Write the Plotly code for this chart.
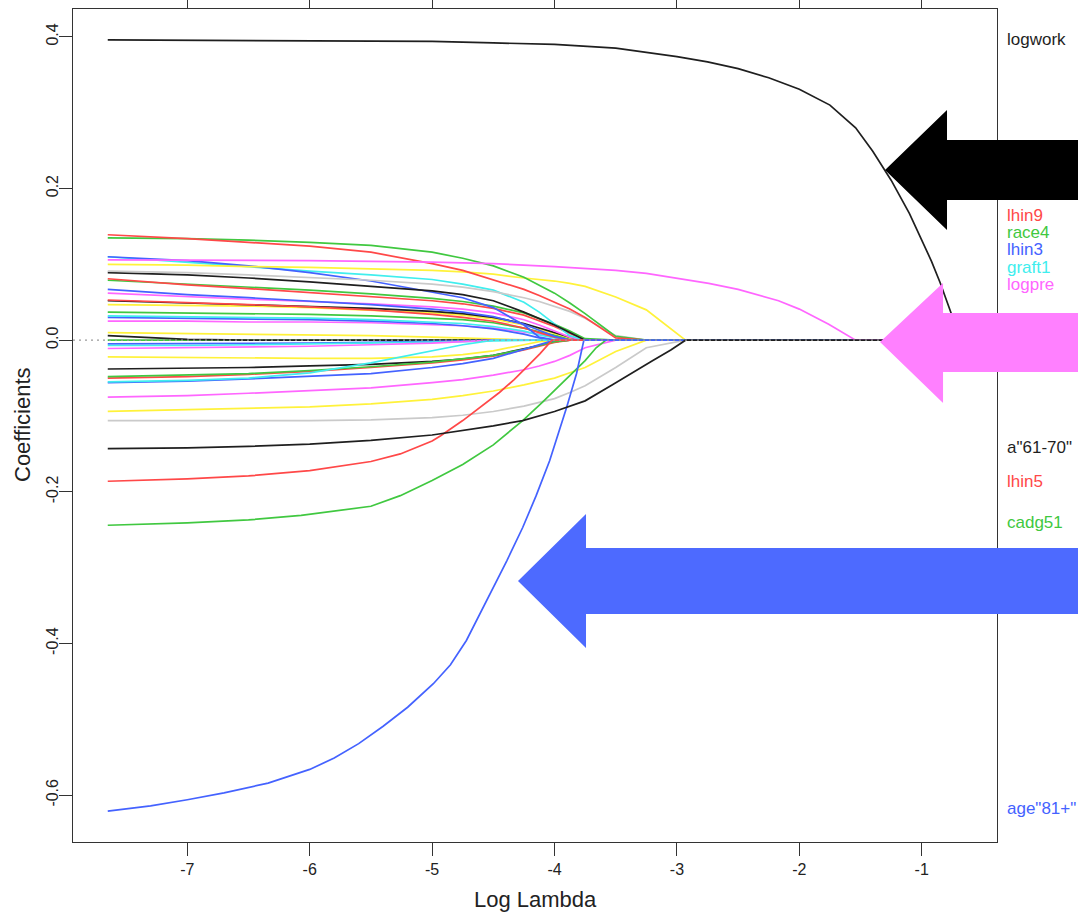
import plotly.graph_objects as go

# ---- data ----
log_lambda = [-7.65, -7.0, -6.5, -6.0, -5.5, -5.0, -4.75, -4.5, -4.25, -4.125, -4.0,
              -3.875, -3.75, -3.5, -3.25, -2.93, -0.68]

# prominent paths, each on its own (finer) log-lambda grid
logwork_x = [-7.65, -6.0, -5.0, -4.5, -4.0, -3.5, -3.0, -2.75, -2.5, -2.25, -2.0, -1.75, -1.54,
             -1.4, -1.25, -1.1, -1.0, -0.92, -0.85, -0.76, -0.68]
logwork = [0.396, 0.395, 0.394, 0.392, 0.390, 0.385, 0.374, 0.367, 0.358, 0.346, 0.331, 0.310,
           0.280, 0.249, 0.211, 0.167, 0.133, 0.104, 0.076, 0.037, 0.0]
logpre_x = [-7.65, -6.0, -5.0, -4.5, -4.0, -3.5, -3.25, -3.0, -2.74, -2.5, -2.17, -2.0, -1.76,
            -1.54, -0.68]
logpre = [0.106, 0.105, 0.103, 0.101, 0.097, 0.092, 0.088, 0.082, 0.075, 0.067, 0.052, 0.041,
          0.021, 0.0, 0.0]
age81_x = [-7.65, -7.3, -7.0, -6.7, -6.34, -6.0, -5.8, -5.6, -5.4, -5.2, -4.99, -4.85, -4.72,
           -4.55, -4.39, -4.26, -4.15, -4.04, -3.90, -3.82, -3.76, -0.68]
age81 = [-0.621, -0.614, -0.606, -0.597, -0.584, -0.566, -0.551, -0.532, -0.509, -0.484, -0.453,
         -0.428, -0.396, -0.343, -0.291, -0.247, -0.205, -0.159, -0.088, -0.044, 0.0, 0.0]
lhin5_x = [-7.65, -7.0, -6.5, -6.0, -5.5, -5.26, -5.0, -4.93, -4.75, -4.6, -4.45, -4.33, -4.23,
           -4.12, -4.02, -0.68]
lhin5 = [-0.186, -0.183, -0.179, -0.172, -0.160, -0.150, -0.133, -0.126, -0.106, -0.088, -0.069,
         -0.052, -0.036, -0.018, 0.0, 0.0]
cadg51_x = [-7.65, -7.0, -6.5, -6.07, -5.5, -5.26, -5.0, -4.93, -4.75, -4.5, -4.26, -4.1, -3.95,
            -3.85, -3.75, -3.66, -3.58, -0.68]
cadg51 = [-0.244, -0.241, -0.237, -0.231, -0.219, -0.205, -0.185, -0.179, -0.164, -0.138, -0.106,
          -0.082, -0.058, -0.043, -0.027, -0.010, 0.0, 0.0]
a61_70_x = [-7.65, -7.0, -6.5, -6.0, -5.5, -5.0, -4.5, -4.26, -4.0, -3.75, -3.53, -3.35, -3.2,
            -3.05, -2.93, -0.68]
a61_70 = [-0.143, -0.142, -0.140, -0.137, -0.132, -0.125, -0.113, -0.106, -0.094, -0.080, -0.059,
          -0.041, -0.027, -0.013, 0.0, 0.0]

# remaining paths on the shared grid (17 points each)
lhin9 = [0.139, 0.134, 0.129, 0.124, 0.116, 0.101, 0.092, 0.080, 0.067, 0.059, 0.050, 0.041, 0.030, 0.003, 0, 0, 0]
race4 = [0.135, 0.134, 0.132, 0.129, 0.125, 0.116, 0.108, 0.098, 0.083, 0.073, 0.062, 0.049, 0.035, 0.005, 0, 0, 0]
lhin3 = [0.110, 0.105, 0.098, 0.089, 0.078, 0.064, 0.056, 0.043, 0.020, 0.004, 0, 0, 0, 0, 0, 0, 0]
graft1 = [0.110, 0.103, 0.097, 0.091, 0.086, 0.080, 0.074, 0.066, 0.050, 0.037, 0.022, 0.006, 0, 0, 0, 0, 0]
v07 = [0.100, 0.099, 0.097, 0.096, 0.094, 0.092, 0.090, 0.087, 0.082, 0.080, 0.078, 0.075, 0.071, 0.057, 0.040, 0, 0]
v08 = [0.091, 0.089, 0.086, 0.083, 0.079, 0.074, 0.070, 0.064, 0.056, 0.051, 0.045, 0.038, 0.029, 0.006, 0, 0, 0]
v09 = [0.089, 0.086, 0.082, 0.077, 0.071, 0.065, 0.060, 0.052, 0.037, 0.029, 0.020, 0.010, 0, 0, 0, 0, 0]
v10 = [0.081, 0.073, 0.068, 0.063, 0.058, 0.052, 0.048, 0.042, 0.033, 0.026, 0.018, 0.009, 0, 0, 0, 0, 0]
v11 = [0.079, 0.074, 0.070, 0.066, 0.061, 0.055, 0.051, 0.045, 0.036, 0.029, 0.021, 0.012, 0.002, 0, 0, 0, 0]
v12 = [0.067, 0.060, 0.056, 0.052, 0.047, 0.041, 0.037, 0.031, 0.021, 0.013, 0.005, 0, 0, 0, 0, 0, 0]
v13 = [0.062, 0.057, 0.054, 0.051, 0.048, 0.044, 0.041, 0.036, 0.027, 0.020, 0.012, 0.004, 0, 0, 0, 0, 0]
v14 = [0.047, 0.046, 0.045, 0.043, 0.040, 0.036, 0.033, 0.028, 0.020, 0.015, 0.009, 0.003, 0, 0, 0, 0, 0]
v15 = [0.053, 0.050, 0.047, 0.044, 0.040, 0.034, 0.030, 0.025, 0.016, 0.010, 0.004, 0, 0, 0, 0, 0, 0]
v16 = [0.052, 0.049, 0.047, 0.045, 0.042, 0.038, 0.035, 0.030, 0.022, 0.016, 0.010, 0.004, 0, 0, 0, 0, 0]
v17 = [0.037, 0.036, 0.035, 0.034, 0.032, 0.029, 0.027, 0.023, 0.016, 0.011, 0.006, 0.002, 0, 0, 0, 0, 0]
v18 = [0.032, 0.031, 0.030, 0.029, 0.027, 0.024, 0.022, 0.018, 0.012, 0.007, 0.003, 0, 0, 0, 0, 0, 0]
v19 = [0.030, 0.029, 0.028, 0.027, 0.025, 0.022, 0.019, 0.015, 0.008, 0.003, 0, 0, 0, 0, 0, 0, 0]
v20 = [0.025, 0.025, 0.024, 0.024, 0.023, 0.021, 0.019, 0.016, 0.011, 0.008, 0.004, 0.001, 0, 0, 0, 0, 0]
v21 = [0.010, 0.009, 0.008, 0.007, 0.006, 0.004, 0.003, 0.001, 0, 0, 0, 0, 0, 0, 0, 0, 0]
v22 = [0.006, 0.001, 0, 0, 0, 0, 0, 0, 0, 0, 0, 0, 0, 0, 0, 0, 0]
v23 = [0, 0, 0, 0, 0, 0, 0, 0, 0, 0, 0, 0, 0, 0, 0, 0, 0]
v24 = [-0.005, -0.005, -0.004, -0.004, -0.003, -0.002, -0.001, 0, 0, 0, 0, 0, 0, 0, 0, 0, 0]
v25 = [-0.007, -0.007, -0.006, -0.005, -0.004, -0.003, -0.002, -0.001, 0, 0, 0, 0, 0, 0, 0, 0, 0]
v26 = [-0.011, -0.010, -0.009, -0.008, -0.006, -0.004, -0.002, 0, 0, 0, 0, 0, 0, 0, 0, 0, 0]
v27 = [-0.022, -0.023, -0.024, -0.024, -0.024, -0.022, -0.019, -0.014, -0.006, -0.002, 0, 0, 0, 0, 0, 0, 0]
v28 = [-0.038, -0.037, -0.036, -0.034, -0.032, -0.028, -0.025, -0.020, -0.012, -0.007, -0.002, 0, 0, 0, 0, 0, 0]
v29 = [-0.050, -0.048, -0.045, -0.041, -0.036, -0.030, -0.026, -0.021, -0.013, -0.008, -0.003, 0, 0, 0, 0, 0, 0]
v30 = [-0.048, -0.046, -0.044, -0.040, -0.035, -0.029, -0.025, -0.020, -0.012, -0.007, -0.002, 0, 0, 0, 0, 0, 0]
v31 = [-0.056, -0.054, -0.051, -0.048, -0.044, -0.036, -0.031, -0.024, -0.012, -0.005, 0, 0, 0, 0, 0, 0, 0]
v32 = [-0.055, -0.053, -0.050, -0.043, -0.030, -0.014, -0.006, 0, 0, 0, 0, 0, 0, 0, 0, 0, 0]
v33 = [-0.075, -0.073, -0.070, -0.067, -0.063, -0.056, -0.052, -0.046, -0.039, -0.034, -0.028, -0.020, -0.010, 0, 0, 0, 0]
v34 = [-0.094, -0.092, -0.090, -0.088, -0.084, -0.078, -0.073, -0.067, -0.059, -0.055, -0.050, -0.043, -0.036, -0.015, 0, 0, 0]
v35 = [-0.106, -0.106, -0.106, -0.106, -0.105, -0.102, -0.099, -0.094, -0.087, -0.082, -0.077, -0.069, -0.060, -0.036, -0.010, 0, 0]

x_ticks = [-7, -6, -5, -4, -3, -2, -1]
x_tick_text = ["-7", "-6", "-5", "-4", "-3", "-2", "-1"]
y_ticks = [0.4, 0.2, 0.0, -0.2, -0.4, -0.6]
y_tick_text = ["0.4", "0.2", "0.0", "-0.2", "-0.4", "-0.6"]

label_names = ["logwork", "lhin9", "race4", "lhin3", "graft1", "logpre",
               'a"61-70"', "lhin5", "cadg51", 'age"81+"']
label_y = [0.396, 0.165, 0.142, 0.119, 0.096, 0.073, -0.142, -0.186, -0.241, -0.617]

# ---- styles ----
BLACK, RED, GREEN, BLUE = "#1f1f1f", "#FF4848", "#40C840", "#4462FF"
CYAN, MAGENTA, YELLOW, GRAY = "#40EEEE", "#FF66FF", "#FFF23A", "#CACACA"

grid_series = [
    (v23, GREEN), (v21, YELLOW), (v22, BLACK), (v24, BLUE), (v25, CYAN), (v26, MAGENTA),
    (v27, YELLOW), (v20, MAGENTA), (v19, BLUE), (v18, CYAN), (v17, GREEN), (v14, YELLOW),
    (v16, BLACK), (v15, RED), (v13, MAGENTA), (v12, BLUE), (v11, GREEN), (v10, RED),
    (v28, BLACK), (v29, RED), (v30, GREEN), (v31, BLUE), (v32, CYAN), (v33, MAGENTA),
    (graft1, CYAN), (lhin3, BLUE), (v09, BLACK), (v08, GRAY), (v07, YELLOW),
    (v34, YELLOW), (v35, GRAY), (race4, GREEN), (lhin9, RED),
]
own_series = [
    (lhin5_x, lhin5, RED), (cadg51_x, cadg51, GREEN), (age81_x, age81, BLUE),
    (logpre_x, logpre, MAGENTA), (a61_70_x, a61_70, BLACK), (logwork_x, logwork, BLACK),
]
label_colors = [BLACK, RED, GREEN, BLUE, CYAN, MAGENTA, BLACK, RED, GREEN, BLUE]

LW = 1.7
fig = go.Figure()
for vals, col in grid_series:
    fig.add_trace(go.Scatter(x=log_lambda, y=vals, mode="lines",
                             line=dict(color=col, width=LW), showlegend=False,
                             hoverinfo="skip"))
for xs, vals, col in own_series:
    fig.add_trace(go.Scatter(x=xs, y=vals, mode="lines",
                             line=dict(color=col, width=LW), showlegend=False,
                             hoverinfo="skip"))

W, H = 1078, 913
L, R, T, B = 73, 81, 9, 71
PW, PH = W - L - R, H - T - B


def px(xp, yp):
    return (xp - L) / PW, (H - B - yp) / PH


def arrow_path(points):
    parts = []
    for i, (xp, yp) in enumerate(points):
        a, b = px(xp, yp)
        parts.append(("M" if i == 0 else "L") + f"{a:.4f},{b:.4f}")
    return " ".join(parts) + " Z"


shapes = [
    dict(type="line", xref="paper", yref="y", x0=0, x1=1, y0=0, y1=0,
         line=dict(color="#9a9a9a", width=1.2, dash="2px,4px"), layer="above"),
    dict(type="path", xref="paper", yref="paper",
         path=arrow_path([(885, 170), (947, 110), (947, 140), (1078, 140), (1078, 200),
                          (947, 200), (947, 230)]),
         fillcolor="#000000", line=dict(width=0), layer="above"),
    dict(type="path", xref="paper", yref="paper",
         path=arrow_path([(880, 342), (943, 283), (943, 313), (1078, 313), (1078, 372),
                          (943, 372), (943, 403)]),
         fillcolor="#FF80FF", line=dict(width=0), layer="above"),
    dict(type="path", xref="paper", yref="paper",
         path=arrow_path([(518, 581), (586, 514), (586, 548), (1078, 548), (1078, 614),
                          (586, 614), (586, 648)]),
         fillcolor="#4D6AFF", line=dict(width=0), layer="above"),
]

annotations = []
for name, yv, col in zip(label_names, label_y, label_colors):
    annotations.append(dict(x=px(1005, 0)[0], xref="paper", y=yv, yref="y", text=name,
                            showarrow=False, xanchor="left", yanchor="middle",
                            font=dict(size=17, color=col)))
annotations.append(dict(x=px(535, 0)[0], xref="paper", y=px(0, 899)[1], yref="paper",
                        text="Log Lambda", showarrow=False, xanchor="center",
                        yanchor="middle", font=dict(size=22, color="#222")))
annotations.append(dict(x=px(22, 0)[0], xref="paper", y=px(0, 425)[1], yref="paper",
                        text="Coefficients", showarrow=False, textangle=-90,
                        xanchor="center", yanchor="middle", font=dict(size=22, color="#222")))

fig.update_layout(
    width=W, height=H,
    margin=dict(l=L, r=R, t=T, b=B, pad=0, autoexpand=False),
    paper_bgcolor="white", plot_bgcolor="white",
    font=dict(family="Liberation Sans, Arial, sans-serif", size=16, color="#222"),
    shapes=shapes, annotations=annotations,
    xaxis=dict(range=[-7.934, -0.385], tickmode="array", tickvals=x_ticks,
               ticktext=x_tick_text, ticks="outside", ticklen=13, tickcolor="#333",
               showline=True, linecolor="#333", linewidth=1, mirror="ticks",
               showgrid=False, zeroline=False, tickfont=dict(size=16), automargin=False),
    yaxis=dict(range=[-0.6617, 0.4367], tickmode="array", tickvals=y_ticks,
               ticktext=y_tick_text, tickangle=-90, ticks="outside", ticklen=13,
               tickcolor="#333", showline=True, linecolor="#333", linewidth=1,
               mirror=True, showgrid=False, zeroline=False, tickfont=dict(size=16),
               ticklabelstandoff=-5, automargin=False),
)

fig.write_html("out.html", config={"displayModeBar": False},
               post_script="document.body.style.margin='0px';")
